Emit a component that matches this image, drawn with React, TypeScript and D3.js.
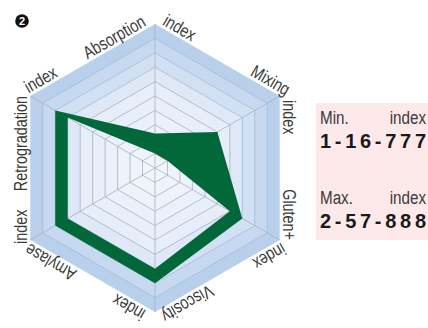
import React from "react";
import * as d3 from "d3";

const AXES = ["Absorption", "Mixing", "Gluten+", "Viscosity", "Amylase", "Retrogradation"];
const INDEX_WORD = "index";
const MAX_VALUES = [2.4, 5, 7, 8, 8, 8];
const MIN_VALUES = [1, 1, 6, 7, 7, 7];
const RING_LEVELS = [1, 2, 3, 4, 5, 6, 7, 8, 9, 10];
const LEGEND_TITLES = ["Min.", "Max."];
const LEGEND_CODES = ["1-16-777", "2-57-888"];
const BADGE = "2";

// layout (not data)
const W = 428, H = 328;
const CX = 155, CY = 168, R = 144;
const NAME_GAP = [7.5, -5, 0, 4, 1, 0];
const INDEX_GAP = [6, 4, 0, 8, -4, 0];
const LABEL_OFF = 3;
const NARROW = 0.8;
const FONT = "'Liberation Sans', Arial, Helvetica, sans-serif";

export default function App() {
  const n = AXES.length;
  const r = d3.scaleLinear().domain([0, 10]).range([0, R]);
  const angle = (i: number) => ((-90 + (360 / n) * i) * Math.PI) / 180;
  const pt = (i: number, v: number): [number, number] => [
    CX + r(v) * Math.cos(angle(i)),
    CY + r(v) * Math.sin(angle(i)),
  ];
  const hexPath = (v: number) => {
    const pts = d3.range(n).map((i) => pt(i, v));
    return "M" + pts.map((p) => p.join(",")).join("L") + "Z";
  };
  const polyPath = (vals: number[]) =>
    "M" + vals.map((v, i) => pt(i, v).join(",")).join("L") + "Z";

  const fillScale = d3
    .scaleLinear<string>()
    .domain([0, 6, 7, 8, 9, 10])
    .range(["#f3f6fc", "#e7eef9", "#dee8f7", "#d2e0f4", "#c6d9f1", "#b9d0ed"]);

  const labels: React.ReactNode[] = [];
  for (let i = 0; i < n; i++) {
    const V = pt(i, 10);
    const P = pt((i - 1 + n) % n, 10);
    const N = pt((i + 1) % n, 10);
    const lenIn = Math.hypot(V[0] - P[0], V[1] - P[1]);
    const uIn = [(V[0] - P[0]) / lenIn, (V[1] - P[1]) / lenIn];
    const nIn = [uIn[1], -uIn[0]];
    const lenOut = Math.hypot(N[0] - V[0], N[1] - V[1]);
    const uOut = [(N[0] - V[0]) / lenOut, (N[1] - V[1]) / lenOut];
    const nOut = [uOut[1], -uOut[0]];
    const aIn = (Math.atan2(uIn[1], uIn[0]) * 180) / Math.PI;
    const aOut = (Math.atan2(uOut[1], uOut[0]) * 180) / Math.PI;
    const x1 = V[0] - NAME_GAP[i] * uIn[0] + LABEL_OFF * nIn[0];
    const y1 = V[1] - NAME_GAP[i] * uIn[1] + LABEL_OFF * nIn[1];
    const x2 = V[0] + INDEX_GAP[i] * uOut[0] + LABEL_OFF * nOut[0];
    const y2 = V[1] + INDEX_GAP[i] * uOut[1] + LABEL_OFF * nOut[1];
    labels.push(
      <text key={"n" + i} x={0} y={0} transform={`translate(${x1},${y1}) rotate(${aIn}) scale(${NARROW},1)`} textAnchor="end">
        {AXES[i]}
      </text>,
      <text key={"i" + i} x={0} y={0} transform={`translate(${x2},${y2}) rotate(${aOut}) scale(${NARROW},1)`} textAnchor="start">
        {INDEX_WORD}
      </text>
    );
  }

  const legendX0 = 320, legendX1 = 426;
  const legendTops = [124, 204];

  return (
    <svg width={W} height={H} style={{ position: "absolute", left: 0, top: 0, background: "#fff" }}>
      {[...RING_LEVELS].reverse().map((lv) => (
        <path key={"b" + lv} d={hexPath(lv)} fill={fillScale(lv)} stroke="none" />
      ))}
      {RING_LEVELS.slice(0, -1).map((lv) => (
        <path key={"r" + lv} d={hexPath(lv)} fill="none" stroke={lv >= 7 ? "#a6bad6" : "#aab0bc"} strokeWidth={0.8} />
      ))}
      {d3.range(n).map((i) => {
        const [x, y] = pt(i, 10);
        return <line key={"s" + i} x1={CX} y1={CY} x2={x} y2={y} stroke="#aab0bc" strokeWidth={0.8} />;
      })}
      <path d={polyPath(MAX_VALUES) + polyPath(MIN_VALUES)} fill="#02683a" fillRule="evenodd" />
      <g fontFamily={FONT} fontSize={18} fill="#3a3a3a">
        {labels}
      </g>
      <circle cx={22} cy={21} r={6.8} fill="#111" />
      <text x={22} y={25} textAnchor="middle" fontFamily={FONT} fontWeight="bold" fontSize={11} fill="#fff">
        {BADGE}
      </text>
      <rect x={316} y={103} width={W - 316} height={137} fill="#fde9ea" />
      {LEGEND_TITLES.map((t, k) => (
        <g key={"l" + k}>
          <text transform={`translate(${legendX0},${legendTops[k]}) scale(${NARROW},1)`} fontFamily={FONT} fontSize={19} fill="#3a3a3a">
            {t}
          </text>
          <text transform={`translate(${legendX1},${legendTops[k]}) scale(${NARROW},1)`} textAnchor="end" fontFamily={FONT} fontSize={19} fill="#3a3a3a">
            {INDEX_WORD}
          </text>
          <text
            x={legendX0}
            y={legendTops[k] + 24}
            fontFamily={FONT}
            fontWeight="bold"
            fontSize={20}
            fill="#1a1a1a"
            textLength={legendX1 - legendX0}
            lengthAdjust="spacing"
          >
            {LEGEND_CODES[k]}
          </text>
        </g>
      ))}
    </svg>
  );
}
